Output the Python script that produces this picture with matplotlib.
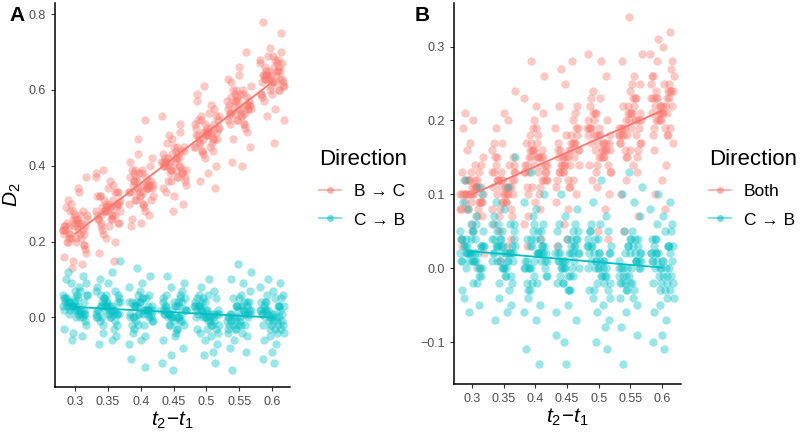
import matplotlib
matplotlib.use("Agg")
import matplotlib.pyplot as plt
from matplotlib.lines import Line2D
import numpy as np

plt.rcParams['font.family'] = ['Liberation Sans', 'DejaVu Sans']
plt.rcParams['mathtext.fontset'] = 'custom'
plt.rcParams['mathtext.it'] = 'Liberation Sans:italic'
plt.rcParams['mathtext.rm'] = 'Liberation Sans'

# ---- data ----
gaps = [0.3, 0.35, 0.4, 0.45, 0.5, 0.55, 0.6]
gap_labels = ['0.3', '0.35', '0.4', '0.45', '0.5', '0.55', '0.6']

# panel A, B -> C (spread of each gap group)
a_bc = [
    [0.23, 0.25, 0.21, 0.19, 0.27, 0.24, 0.22, 0.30, 0.17, 0.26, 0.20, 0.28, 0.15, 0.24, 0.33, 0.22, 0.18, 0.25,
     0.29, 0.21, 0.13, 0.26, 0.23, 0.31, 0.19, 0.24, 0.16, 0.27, 0.22, 0.37, 0.20, 0.25, 0.14, 0.28, 0.23, 0.34],
    [0.28, 0.31, 0.26, 0.25, 0.33, 0.29, 0.27, 0.35, 0.22, 0.30, 0.24, 0.32, 0.20, 0.29, 0.37, 0.27, 0.23, 0.30,
     0.34, 0.26, 0.15, 0.31, 0.28, 0.36, 0.24, 0.29, 0.21, 0.32, 0.27, 0.39, 0.25, 0.30, 0.17, 0.33, 0.28, 0.38],
    [0.34, 0.36, 0.32, 0.30, 0.38, 0.35, 0.33, 0.41, 0.28, 0.37, 0.31, 0.39, 0.26, 0.35, 0.43, 0.33, 0.29, 0.36,
     0.40, 0.32, 0.24, 0.37, 0.34, 0.42, 0.30, 0.35, 0.27, 0.38, 0.33, 0.52, 0.31, 0.36, 0.25, 0.39, 0.34, 0.47],
    [0.40, 0.42, 0.38, 0.37, 0.44, 0.41, 0.39, 0.47, 0.34, 0.43, 0.36, 0.45, 0.32, 0.41, 0.49, 0.39, 0.35, 0.42,
     0.46, 0.38, 0.28, 0.43, 0.40, 0.48, 0.36, 0.41, 0.33, 0.44, 0.39, 0.53, 0.37, 0.42, 0.30, 0.45, 0.40, 0.51],
    [0.48, 0.50, 0.46, 0.44, 0.52, 0.49, 0.47, 0.55, 0.42, 0.51, 0.45, 0.53, 0.40, 0.49, 0.57, 0.47, 0.43, 0.50,
     0.54, 0.46, 0.34, 0.51, 0.48, 0.56, 0.44, 0.49, 0.38, 0.52, 0.47, 0.61, 0.45, 0.50, 0.36, 0.53, 0.48, 0.59],
    [0.55, 0.57, 0.53, 0.51, 0.59, 0.56, 0.54, 0.62, 0.49, 0.58, 0.52, 0.60, 0.47, 0.56, 0.64, 0.54, 0.50, 0.57,
     0.61, 0.53, 0.41, 0.58, 0.55, 0.63, 0.51, 0.56, 0.45, 0.59, 0.54, 0.70, 0.52, 0.57, 0.40, 0.60, 0.55, 0.66],
    [0.63, 0.65, 0.61, 0.59, 0.67, 0.64, 0.62, 0.69, 0.57, 0.66, 0.60, 0.68, 0.55, 0.64, 0.70, 0.62, 0.58, 0.65,
     0.69, 0.61, 0.46, 0.66, 0.63, 0.71, 0.59, 0.64, 0.53, 0.67, 0.62, 0.78, 0.60, 0.65, 0.52, 0.68, 0.63, 0.75],
]
# extra points in the dense middle of each group
a_bc_core = [
    [0.24, 0.22, 0.26, 0.23, 0.25, 0.21, 0.27, 0.24, 0.20, 0.23, 0.26, 0.22, 0.25, 0.28, 0.24, 0.21],
    [0.29, 0.27, 0.30, 0.28, 0.26, 0.31, 0.28, 0.25, 0.29, 0.32, 0.27, 0.30, 0.28, 0.26, 0.29, 0.33],
    [0.35, 0.33, 0.36, 0.34, 0.32, 0.37, 0.35, 0.31, 0.34, 0.38, 0.33, 0.36, 0.34, 0.30, 0.35, 0.39],
    [0.41, 0.39, 0.42, 0.40, 0.38, 0.43, 0.41, 0.37, 0.40, 0.44, 0.39, 0.42, 0.40, 0.36, 0.41, 0.45],
    [0.49, 0.47, 0.50, 0.48, 0.46, 0.51, 0.49, 0.45, 0.48, 0.52, 0.47, 0.50, 0.48, 0.44, 0.49, 0.53],
    [0.56, 0.54, 0.57, 0.55, 0.53, 0.58, 0.56, 0.52, 0.55, 0.59, 0.54, 0.57, 0.55, 0.51, 0.56, 0.60],
    [0.64, 0.62, 0.65, 0.63, 0.61, 0.66, 0.64, 0.60, 0.63, 0.67, 0.62, 0.65, 0.63, 0.59, 0.64, 0.68],
]

# panel A, C -> B
a_cb = [
    [0.03, 0.05, 0.01, 0.02, 0.07, 0.04, 0.00, 0.09, -0.02, 0.06, 0.03, 0.11, -0.04, 0.02, 0.08, 0.04, -0.01, 0.05,
     0.10, 0.02, -0.06, 0.06, 0.03, 0.12, 0.01, 0.04, -0.03, 0.07, 0.02, 0.09, 0.00, 0.05, -0.05, 0.03, 0.06, 0.01],
    [0.02, 0.04, 0.00, 0.06, -0.02, 0.03, 0.08, 0.01, -0.04, 0.05, 0.02, 0.10, -0.01, 0.03, 0.07, -0.06, 0.04, 0.01,
     0.09, 0.02, -0.03, 0.05, 0.15, 0.00, 0.03, -0.05, 0.06, 0.02, 0.12, -0.02, 0.04, 0.01, -0.07, 0.07, 0.03, 0.00],
    [0.01, 0.03, -0.01, 0.05, -0.03, 0.02, 0.07, 0.00, -0.05, 0.04, 0.01, 0.09, -0.02, 0.03, 0.06, -0.07, 0.02, 0.00,
     0.11, 0.04, -0.11, 0.05, 0.13, -0.01, 0.02, -0.04, 0.06, 0.01, 0.08, -0.13, 0.03, 0.00, -0.06, 0.04, 0.02, -0.02],
    [0.01, 0.03, -0.02, 0.05, -0.04, 0.02, 0.07, 0.00, -0.06, 0.04, 0.01, 0.09, -0.01, 0.03, 0.06, -0.10, 0.02, -0.03,
     0.11, 0.04, -0.14, 0.05, 0.00, -0.02, 0.02, -0.05, 0.06, 0.01, 0.08, -0.12, 0.03, 0.00, -0.08, 0.04, 0.02, -0.01],
    [0.00, 0.02, -0.02, 0.04, -0.04, 0.01, 0.06, -0.01, -0.06, 0.03, 0.00, 0.08, -0.03, 0.02, 0.05, -0.09, 0.01, -0.02,
     0.10, 0.03, -0.12, 0.04, 0.00, -0.05, 0.02, -0.07, 0.06, 0.01, 0.07, -0.10, 0.03, -0.01, -0.04, 0.05, 0.02, -0.03],
    [0.00, 0.02, -0.02, 0.04, -0.03, 0.01, 0.06, -0.01, -0.05, 0.03, 0.00, 0.09, -0.02, 0.02, 0.05, -0.08, 0.01, -0.03,
     0.12, 0.03, -0.14, 0.04, 0.14, -0.04, 0.02, -0.06, 0.07, 0.00, 0.10, -0.09, 0.03, -0.01, -0.04, 0.05, 0.01, -0.02],
    [0.00, 0.02, -0.02, 0.04, -0.04, 0.01, 0.06, -0.01, -0.06, 0.03, 0.00, 0.08, -0.03, 0.02, 0.05, -0.09, 0.01, -0.02,
     0.10, 0.03, -0.12, 0.04, 0.09, -0.05, 0.02, -0.07, 0.06, 0.01, 0.07, -0.11, 0.03, -0.01, -0.04, 0.05, 0.02, -0.03],
]
a_cb_core = [
    [0.03, 0.04, 0.02, 0.05, 0.01, 0.03, 0.06, 0.02, 0.04, 0.00, 0.03, 0.05, 0.02, 0.04, 0.01, 0.03],
    [0.02, 0.03, 0.01, 0.04, 0.00, 0.02, 0.05, 0.01, 0.03, -0.01, 0.02, 0.04, 0.01, 0.03, 0.00, 0.06],
    [0.02, 0.01, 0.03, 0.00, 0.04, 0.01, 0.02, -0.01, 0.03, 0.05, 0.00, 0.02, 0.01, 0.04, -0.02, 0.03],
    [0.01, 0.02, 0.00, 0.03, -0.01, 0.02, 0.04, 0.00, 0.01, -0.02, 0.03, 0.01, 0.05, 0.00, 0.02, -0.03],
    [0.01, 0.00, 0.02, -0.01, 0.03, 0.01, 0.00, 0.04, -0.02, 0.02, 0.01, -0.03, 0.03, 0.00, 0.05, 0.01],
    [0.00, 0.01, -0.01, 0.02, -0.02, 0.01, 0.03, 0.00, -0.03, 0.02, 0.00, 0.04, -0.01, 0.01, -0.02, 0.03],
    [0.00, 0.01, -0.01, 0.02, -0.02, 0.01, 0.03, 0.00, -0.03, 0.02, 0.00, 0.04, -0.01, 0.01, -0.02, 0.03],
]

# panel B, Both
b_both = [
    [0.10, 0.12, 0.08, 0.11, 0.09, 0.13, 0.07, 0.10, 0.15, 0.05, 0.12, 0.09, 0.17, 0.04, 0.11, 0.10, 0.14, 0.06,
     0.19, 0.08, 0.12, 0.02, 0.10, 0.21, 0.09, 0.13, 0.03, 0.11, 0.16, 0.07, 0.20, 0.10, 0.00, 0.12, 0.08, 0.14],
    [0.11, 0.13, 0.09, 0.15, 0.07, 0.12, 0.17, 0.10, 0.05, 0.14, 0.11, 0.19, 0.08, 0.13, 0.16, 0.03, 0.12, 0.10,
     0.21, 0.06, 0.14, 0.01, 0.24, 0.09, 0.12, 0.04, 0.17, 0.11, 0.20, 0.07, 0.13, 0.10, 0.15, 0.02, 0.12, 0.08],
    [0.14, 0.16, 0.12, 0.18, 0.10, 0.15, 0.20, 0.13, 0.08, 0.17, 0.14, 0.22, 0.11, 0.16, 0.19, 0.06, 0.15, 0.13,
     0.26, 0.09, 0.17, 0.04, 0.28, 0.12, 0.15, 0.07, 0.21, 0.14, 0.23, 0.10, 0.16, 0.13, 0.19, 0.03, 0.15, 0.11],
    [0.15, 0.17, 0.13, 0.19, 0.11, 0.16, 0.21, 0.14, 0.09, 0.18, 0.15, 0.22, 0.12, 0.17, 0.20, 0.06, 0.16, 0.14,
     0.27, 0.10, 0.18, 0.03, 0.28, 0.13, 0.16, 0.08, 0.22, 0.15, 0.25, 0.11, 0.17, 0.14, 0.19, 0.04, 0.16, 0.12],
    [0.17, 0.19, 0.15, 0.21, 0.13, 0.18, 0.23, 0.16, 0.11, 0.20, 0.17, 0.24, 0.14, 0.19, 0.22, 0.08, 0.18, 0.16,
     0.28, 0.12, 0.20, 0.05, 0.29, 0.15, 0.18, 0.10, 0.23, 0.17, 0.26, 0.13, 0.19, 0.16, 0.21, 0.04, 0.18, 0.14],
    [0.19, 0.21, 0.17, 0.23, 0.15, 0.20, 0.25, 0.18, 0.13, 0.22, 0.19, 0.26, 0.16, 0.21, 0.24, 0.10, 0.20, 0.18,
     0.29, 0.14, 0.22, 0.07, 0.34, 0.17, 0.20, 0.12, 0.25, 0.19, 0.28, 0.15, 0.21, 0.18, 0.23, 0.05, 0.20, 0.16],
    [0.22, 0.24, 0.20, 0.26, 0.18, 0.23, 0.28, 0.21, 0.16, 0.25, 0.22, 0.29, 0.19, 0.24, 0.27, 0.12, 0.23, 0.21,
     0.31, 0.17, 0.25, 0.10, 0.32, 0.20, 0.23, 0.14, 0.28, 0.22, 0.30, 0.18, 0.24, 0.21, 0.26, 0.08, 0.23, 0.19],
]
b_both_core = [
    [0.10, 0.09, 0.11, 0.10, 0.12, 0.08, 0.10, 0.11, 0.09, 0.13, 0.10, 0.08, 0.11, 0.12, 0.09, 0.10],
    [0.11, 0.10, 0.12, 0.09, 0.13, 0.11, 0.08, 0.12, 0.10, 0.14, 0.11, 0.09, 0.13, 0.10, 0.12, 0.15],
    [0.14, 0.13, 0.15, 0.12, 0.16, 0.14, 0.11, 0.15, 0.13, 0.17, 0.14, 0.12, 0.16, 0.13, 0.15, 0.18],
    [0.15, 0.14, 0.16, 0.13, 0.17, 0.15, 0.12, 0.16, 0.14, 0.18, 0.15, 0.13, 0.17, 0.14, 0.19, 0.11],
    [0.17, 0.16, 0.18, 0.15, 0.19, 0.17, 0.14, 0.18, 0.16, 0.20, 0.17, 0.15, 0.19, 0.16, 0.21, 0.13],
    [0.19, 0.18, 0.20, 0.17, 0.21, 0.19, 0.16, 0.20, 0.18, 0.22, 0.19, 0.17, 0.21, 0.18, 0.23, 0.15],
    [0.22, 0.21, 0.23, 0.20, 0.24, 0.22, 0.19, 0.23, 0.21, 0.25, 0.22, 0.20, 0.24, 0.21, 0.26, 0.18],
]

# panel B, C -> B
b_cb = [
    [0.02, 0.04, 0.00, 0.03, 0.06, 0.01, -0.02, 0.08, 0.03, 0.05, -0.04, 0.11, 0.02, 0.01, 0.07, 0.04, -0.01, 0.05,
     0.09, 0.02, -0.06, 0.03, 0.01, 0.12, 0.00, 0.04, -0.03, 0.06, 0.02, 0.10, -0.02, 0.03, -0.05, 0.01, 0.05, 0.02],
    [0.02, 0.03, 0.00, 0.05, -0.02, 0.03, 0.07, 0.01, -0.04, 0.06, 0.02, 0.09, -0.01, 0.04, 0.06, -0.06, 0.03, 0.01,
     0.08, 0.02, -0.03, 0.04, 0.15, -0.01, 0.03, -0.05, 0.05, 0.02, 0.11, -0.02, 0.04, 0.00, -0.07, 0.06, 0.03, 0.01],
    [0.01, 0.03, -0.01, 0.05, -0.03, 0.02, 0.06, 0.00, -0.05, 0.04, 0.01, 0.08, -0.02, 0.03, 0.07, -0.06, 0.02, 0.00,
     0.10, 0.04, -0.11, 0.05, 0.13, -0.01, 0.02, -0.04, 0.06, 0.01, 0.09, -0.13, 0.03, 0.00, -0.07, 0.04, 0.02, -0.02],
    [0.01, 0.02, -0.02, 0.05, -0.03, 0.02, 0.06, 0.00, -0.06, 0.04, 0.01, 0.08, -0.01, 0.03, 0.05, -0.10, 0.02, -0.03,
     0.10, 0.04, -0.13, 0.05, 0.00, -0.02, 0.02, -0.05, 0.06, 0.01, 0.07, -0.09, 0.03, 0.00, -0.07, 0.04, 0.02, -0.01],
    [0.00, 0.02, -0.02, 0.04, -0.04, 0.01, 0.06, -0.01, -0.06, 0.03, 0.00, 0.09, -0.03, 0.02, 0.05, -0.08, 0.01, -0.02,
     0.12, 0.03, -0.11, 0.04, 0.00, -0.05, 0.02, -0.07, 0.06, 0.01, 0.07, -0.10, 0.03, -0.01, -0.04, 0.05, 0.02, -0.03],
    [0.00, 0.02, -0.02, 0.04, -0.03, 0.01, 0.05, -0.01, -0.05, 0.03, 0.00, 0.09, -0.02, 0.02, 0.04, -0.08, 0.01, -0.03,
     0.11, 0.03, -0.13, 0.04, 0.13, -0.04, 0.02, -0.06, 0.07, 0.00, 0.10, -0.09, 0.03, -0.01, -0.04, 0.05, 0.01, -0.02],
    [0.00, 0.02, -0.02, 0.04, -0.04, 0.01, 0.06, -0.01, -0.06, 0.03, 0.00, 0.08, -0.03, 0.02, 0.05, -0.09, 0.01, -0.02,
     0.10, 0.03, -0.11, 0.04, 0.09, -0.05, 0.02, -0.07, 0.06, 0.01, 0.07, -0.10, 0.03, -0.01, -0.04, 0.05, 0.02, -0.03],
]
b_cb_core = [
    [0.02, 0.03, 0.01, 0.04, 0.00, 0.02, 0.05, 0.01, 0.03, -0.01, 0.02, 0.04, 0.01, 0.03, 0.00, 0.02],
    [0.02, 0.01, 0.03, 0.00, 0.04, 0.02, 0.01, 0.05, -0.01, 0.03, 0.02, 0.00, 0.04, 0.01, 0.06, 0.02],
    [0.01, 0.02, 0.00, 0.03, -0.01, 0.01, 0.04, 0.00, 0.02, -0.02, 0.01, 0.03, 0.05, 0.00, 0.02, -0.03],
    [0.01, 0.00, 0.02, -0.01, 0.03, 0.01, -0.02, 0.02, 0.00, 0.04, -0.03, 0.01, 0.03, 0.00, 0.02, -0.01],
    [0.01, 0.00, 0.02, -0.01, 0.03, 0.00, -0.02, 0.04, 0.01, -0.03, 0.02, 0.00, 0.05, -0.01, 0.01, 0.03],
    [0.00, 0.01, -0.01, 0.02, -0.02, 0.00, 0.03, -0.01, 0.01, -0.03, 0.02, 0.00, 0.04, -0.02, 0.01, 0.00],
    [0.00, 0.01, -0.01, 0.02, -0.02, 0.01, 0.03, 0.00, -0.03, 0.02, 0.00, 0.04, -0.01, 0.01, -0.02, 0.03],
]

red = '#F8766D'
cyan = '#00BFC4'
grey = '#4D4D4D'


def jitter_x(k, n, width=0.019):
    # spread points over the jitter band with a low-discrepancy sequence
    frac = (np.arange(n) * 0.618034 + k * 0.37) % 1.0
    return (frac * 2 - 1) * width


def draw_series(ax, groups, core, color):
    xs, ys = [], []
    for k, g in enumerate(gaps):
        vals = groups[k] + core[k]
        off = jitter_x(k, len(vals))
        ax.scatter(g + off, vals, s=36, color=color, alpha=0.4, linewidths=0, zorder=2)
        xs += [g] * len(vals)
        ys += vals
    slope, icpt = np.polyfit(xs, ys, 1)
    xl = np.array([gaps[0], gaps[-1]])
    ax.plot(xl, icpt + slope * xl, color=color, lw=1.3, zorder=3)


def style(ax):
    for s in ['top', 'right']:
        ax.spines[s].set_visible(False)
    for s in ['left', 'bottom']:
        ax.spines[s].set_linewidth(1.1)
        ax.spines[s].set_color('black')
    ax.tick_params(axis='both', colors='#333333', labelcolor=grey, labelsize=9, length=3, width=0.8)
    ax.set_xticks(gaps)
    ax.set_xticklabels(gap_labels)
    ax.set_xlabel(r'$t_2\!-\!t_1$', fontsize=15, labelpad=1)


fig = plt.figure(figsize=(8, 4.36), dpi=100)

axA = fig.add_axes([0.069, 0.112, 0.2935, 0.881])
draw_series(axA, a_bc, a_bc_core, red)
draw_series(axA, a_cb, a_cb_core, cyan)
style(axA)
axA.set_xlim(0.2695, 0.6274)
axA.set_ylim(-0.184, 0.829)
axA.set_yticks([0.0, 0.2, 0.4, 0.6, 0.8])
axA.set_yticklabels(['0.0', '0.2', '0.4', '0.6', '0.8'])
axA.set_ylabel(r'$D_2$', fontsize=15, labelpad=4)

axB = fig.add_axes([0.5675, 0.119, 0.2838, 0.874])
draw_series(axB, b_both, b_both_core, red)
draw_series(axB, b_cb, b_cb_core, cyan)
style(axB)
axB.set_xlim(0.2716, 0.630)
axB.set_ylim(-0.157, 0.359)
axB.set_yticks([-0.1, 0.0, 0.1, 0.2, 0.3])
axB.set_yticklabels(['\u22120.1', '0.0', '0.1', '0.2', '0.3'])

fig.text(0.012, 0.965, 'A', fontsize=15, fontweight='bold', ha='left', va='center')
fig.text(0.518, 0.965, 'B', fontsize=15, fontweight='bold', ha='left', va='center')


def legend_handles(labels):
    return [Line2D([0], [0], color=c, lw=1.3, marker='o', markersize=5,
                   markeredgewidth=0, alpha=0.55, label=l) for c, l in zip([red, cyan], labels)]


leg_kw = dict(loc='upper left', frameon=False, title='Direction', title_fontsize=16, fontsize=12.5,
              handlelength=1.27, handletextpad=0.75, labelspacing=0.78, alignment='left',
              borderpad=0, borderaxespad=0)
fig.legend(handles=legend_handles(['B \u2192 C', 'C \u2192 B']), bbox_to_anchor=(0.399, 0.658), **leg_kw)
fig.legend(handles=legend_handles(['Both', 'C \u2192 B']), bbox_to_anchor=(0.886, 0.658), **leg_kw)

fig.savefig('out.png', dpi=100)
